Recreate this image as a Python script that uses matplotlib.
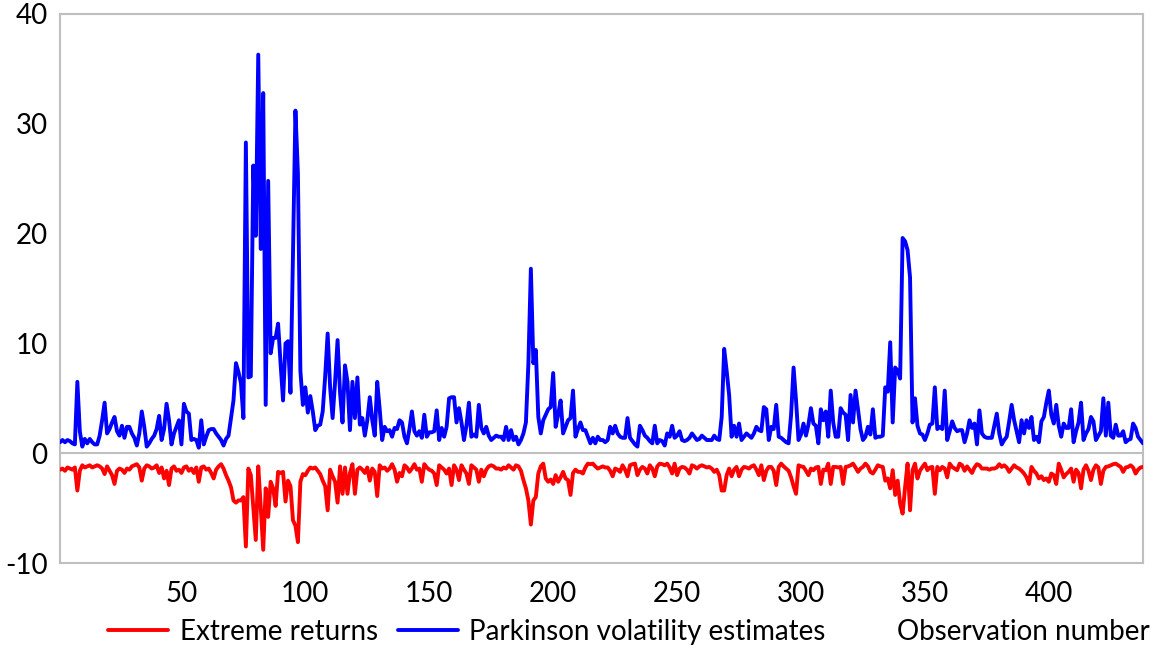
import matplotlib
matplotlib.use("Agg")
import matplotlib.pyplot as plt
import numpy as np

parkinson = [
    1.0, 1.2, 1.0, 1.2, 1.1, 0.9, 0.8, 6.5, 2.0, 0.6,
    1.3, 0.9, 1.3, 1.0, 0.8, 0.8, 1.6, 3.0, 4.6, 1.8,
    2.2, 2.8, 3.3, 2.0, 1.6, 2.5, 1.4, 2.4, 2.4, 1.8,
    1.4, 0.7, 1.8, 3.8, 2.4, 0.6, 0.9, 1.3, 1.6, 2.2,
    3.4, 1.2, 2.2, 4.5, 3.0, 0.8, 1.8, 2.4, 3.0, 0.8,
    4.5, 3.8, 3.6, 1.2, 1.3, 1.2, 0.5, 3.0, 0.8, 1.5,
    2.1, 2.2, 2.2, 1.8, 1.5, 1.2, 0.7, 1.3, 1.6, 3.2,
    4.8, 8.2, 7.4, 6.4, 3.2, 28.3, 6.9, 7.0, 26.2, 19.8,
    36.3, 18.6, 32.8, 4.4, 24.8, 9.1, 10.5, 10.5, 11.8, 8.2,
    4.8, 10.0, 10.2, 5.5, 18.0, 31.2, 25.5, 7.5, 4.4, 6.0,
    3.7, 5.2, 3.8, 2.1, 2.5, 2.6, 3.8, 7.0, 10.9, 6.0,
    3.2, 6.5, 10.3, 5.5, 2.8, 8.0, 6.5, 2.1, 6.5, 3.2,
    6.9, 2.6, 3.2, 1.6, 3.0, 5.1, 3.0, 1.6, 6.5, 4.0,
    1.2, 2.4, 2.0, 2.1, 1.5, 2.3, 2.2, 3.0, 2.8, 1.5,
    0.9, 2.2, 3.8, 2.0, 1.6, 2.0, 1.4, 3.5, 1.5, 1.9,
    1.9, 2.0, 3.9, 1.2, 2.3, 1.5, 2.4, 5.0, 5.1, 5.1,
    2.8, 4.1, 2.8, 1.2, 2.5, 4.6, 1.5, 1.7, 1.5, 4.4,
    2.3, 1.8, 2.4, 1.6, 1.2, 1.4, 1.6, 1.5, 1.5, 1.2,
    2.4, 1.2, 2.1, 1.2, 1.5, 0.8, 1.2, 1.8, 2.8, 8.2,
    16.8, 8.2, 9.4, 3.3, 1.8, 3.0, 3.5, 4.0, 4.2, 7.3,
    2.4, 3.5, 4.8, 1.8, 2.4, 3.0, 3.2, 5.7, 1.5, 2.2,
    2.8, 2.1, 2.1, 1.5, 0.9, 1.4, 0.9, 1.5, 1.2, 1.2,
    1.0, 1.2, 2.4, 1.8, 2.5, 1.8, 1.5, 1.4, 1.4, 3.2,
    1.4, 1.1, 0.8, 0.6, 2.5, 2.1, 1.6, 1.4, 1.1, 0.9,
    2.5, 0.9, 1.2, 1.1, 0.7, 1.8, 1.5, 2.5, 1.4, 1.6,
    2.0, 1.2, 1.1, 1.2, 1.4, 1.8, 1.5, 1.2, 1.3, 1.6,
    1.4, 1.2, 1.2, 1.2, 1.6, 1.3, 1.2, 3.3, 9.5, 7.5,
    5.3, 1.5, 2.5, 1.5, 2.7, 1.2, 1.5, 1.8, 1.6, 1.4,
    1.8, 2.4, 2.1, 2.0, 4.2, 4.0, 1.2, 2.4, 2.2, 4.4,
    1.5, 1.4, 1.2, 1.0, 0.9, 3.5, 7.8, 4.8, 1.2, 1.7,
    2.7, 1.6, 2.6, 4.1, 2.7, 2.5, 0.9, 4.0, 3.0, 3.8,
    1.5, 5.7, 2.8, 1.5, 1.5, 4.1, 3.7, 3.5, 1.2, 5.3,
    2.8, 5.7, 4.0, 2.2, 1.2, 1.5, 2.4, 1.7, 4.0, 1.4,
    1.5, 1.5, 1.6, 6.0, 5.6, 10.1, 2.8, 7.8, 7.5, 6.8,
    19.6, 19.3, 18.5, 16.0, 2.8, 5.0, 2.5, 1.8, 1.7, 1.2,
    1.8, 2.6, 2.7, 6.0, 2.2, 2.4, 2.2, 5.7, 1.2, 2.0,
    2.9, 2.3, 2.0, 2.1, 2.1, 1.0, 1.8, 3.0, 2.3, 2.7,
    0.8, 3.9, 1.8, 1.5, 1.4, 1.4, 1.4, 2.5, 3.6, 1.8,
    0.8, 1.2, 1.5, 2.9, 4.4, 3.0, 2.0, 1.0, 3.0, 1.8,
    3.0, 2.3, 3.3, 1.2, 1.5, 1.0, 2.9, 3.3, 4.6, 5.7,
    3.5, 2.7, 4.4, 2.5, 1.5, 2.7, 2.3, 2.3, 4.0, 1.0,
    2.0, 2.8, 4.6, 1.2, 1.8, 2.2, 3.3, 2.9, 1.2, 1.6,
    2.0, 5.0, 1.6, 4.6, 1.6, 1.4, 2.6, 1.6, 1.6, 2.0,
    1.0, 1.2, 1.3, 2.7, 2.3, 1.5, 1.2, 0.9,
]

# Extreme returns, same observations
extreme = [
    -1.5, -1.4, -1.6, -1.3, -1.4, -1.5, -1.3, -3.4, -1.6, -1.1,
    -1.3, -1.2, -1.1, -1.3, -1.2, -1.1, -1.2, -1.4, -1.9, -1.2,
    -1.6, -2.0, -2.8, -1.6, -1.4, -1.5, -1.8, -1.4, -1.5, -1.2,
    -1.1, -1.0, -1.3, -2.5, -1.4, -1.1, -1.2, -1.4, -1.3, -1.1,
    -1.8, -1.3, -2.3, -1.6, -2.9, -1.4, -1.2, -1.6, -1.5, -1.8,
    -1.3, -1.2, -1.6, -1.4, -1.8, -1.3, -2.6, -1.3, -1.2, -1.5,
    -1.4, -1.8, -2.3, -1.5, -1.2, -1.0, -1.4, -2.0, -2.5, -3.1,
    -4.3, -4.5, -4.3, -4.3, -4.0, -8.5, -1.4, -2.0, -4.9, -7.9,
    -1.2, -4.9, -8.8, -3.2, -5.8, -2.6, -3.2, -4.8, -1.7, -1.8,
    -1.7, -4.4, -2.5, -3.0, -6.1, -6.6, -8.1, -2.6, -1.9, -2.0,
    -1.6, -1.3, -1.4, -1.3, -1.6, -1.9, -2.5, -3.0, -5.2, -1.5,
    -2.1, -2.6, -4.5, -1.2, -3.7, -1.3, -3.7, -1.8, -1.0, -3.7,
    -1.5, -1.3, -1.5, -1.8, -1.3, -2.5, -1.4, -1.7, -3.9, -1.1,
    -1.4, -1.3, -1.6, -1.4, -1.0, -1.5, -2.6, -1.8, -2.1, -1.1,
    -1.3, -1.7, -1.4, -1.0, -1.5, -1.4, -2.6, -1.0, -1.3, -1.5,
    -1.6, -1.85, -2.9, -1.1, -1.3, -1.5, -1.85, -1.4, -2.9, -1.1,
    -1.5, -2.45, -1.1, -1.5, -1.85, -2.8, -1.1, -1.3, -1.5, -2.6,
    -1.5, -2.1, -1.5, -1.2, -1.1, -1.2, -1.4, -1.4, -1.5, -1.3,
    -1.4, -1.1, -1.3, -1.5, -1.1, -1.2, -1.6, -2.45, -3.2, -4.3,
    -6.5, -4.3, -4.0, -1.85, -1.2, -0.95, -2.3, -2.6, -2.4, -2.8,
    -2.0, -2.6, -2.2, -1.7, -2.3, -2.45, -3.8, -1.8, -1.5, -1.7,
    -1.7, -1.85, -1.3, -0.95, -1.0, -0.95, -1.2, -1.4, -1.3, -1.2,
    -1.3, -1.3, -1.6, -2.1, -1.4, -1.5, -1.7, -1.1, -1.5, -2.1,
    -1.1, -1.0, -0.95, -2.0, -1.5, -1.25, -1.4, -1.85, -1.1, -1.4,
    -2.1, -1.2, -0.95, -1.0, -1.1, -0.95, -1.3, -1.85, -0.95, -2.0,
    -1.4, -1.25, -1.3, -1.5, -1.85, -1.1, -1.2, -1.4, -1.2, -1.1,
    -1.2, -1.3, -1.25, -1.4, -1.7, -1.5, -2.0, -3.4, -3.4, -2.0,
    -1.4, -2.1, -1.5, -1.25, -2.1, -1.5, -1.25, -1.3, -1.4, -1.2,
    -1.1, -1.5, -2.0, -1.1, -2.45, -1.6, -1.25, -1.25, -1.6, -2.9,
    -1.25, -0.95, -1.2, -1.4, -1.6, -2.2, -3.0, -3.7, -1.1, -1.2,
    -1.25, -1.6, -2.0, -1.4, -1.55, -1.3, -1.25, -2.8, -1.5, -1.55,
    -0.95, -2.8, -1.25, -1.25, -1.3, -1.25, -2.8, -1.25, -1.2, -1.1,
    -0.95, -1.3, -1.7, -1.4, -1.25, -0.95, -1.2, -1.7, -1.85, -1.5,
    -1.1, -1.2, -1.25, -2.5, -2.3, -3.2, -1.55, -3.8, -2.5, -4.6,
    -5.5, -3.1, -0.95, -5.2, -1.55, -0.95, -2.3, -1.6, -1.25, -0.95,
    -1.55, -1.3, -1.25, -3.7, -1.25, -1.55, -1.25, -1.4, -2.2, -0.95,
    -1.25, -1.4, -1.55, -0.95, -1.1, -1.6, -1.2, -1.5, -1.8, -1.3,
    -1.0, -1.1, -1.4, -1.4, -1.4, -1.5, -1.4, -1.4, -1.3, -1.0,
    -1.25, -1.1, -1.3, -1.7, -1.4, -1.1, -1.3, -1.4, -1.6, -1.85,
    -2.2, -2.8, -1.25, -1.6, -1.85, -2.3, -2.1, -2.45, -2.3, -2.6,
    -1.85, -2.0, -2.8, -0.95, -1.5, -2.2, -1.9, -1.7, -1.4, -2.6,
    -1.5, -1.8, -3.2, -1.5, -1.1, -1.6, -2.45, -1.5, -1.1, -1.3,
    -2.8, -1.6, -1.25, -1.2, -1.1, -1.0, -0.95, -1.1, -1.25, -1.7,
    -1.3, -1.25, -1.1, -1.3, -1.85, -1.5, -1.3, -1.25,
]

x_ticks = [50, 100, 150, 200, 250, 300, 350, 400]
y_ticks = [-10, 0, 10, 20, 30, 40]

plt.rcParams["font.family"] = ["Lato", "DejaVu Sans"]
plt.rcParams["font.size"] = 20
plt.rcParams["axes.unicode_minus"] = False  # plain hyphen on "-10"

W, H = 1158, 653
fig = plt.figure(figsize=(W / 100, H / 100), dpi=100)
ax = fig.add_axes([60 / W, 1 - 563 / H, (1143 - 60) / W, (563 - 14) / H])

obs_p = np.arange(1, len(parkinson) + 1)
obs_e = np.arange(1, len(extreme) + 1)

grey = "#BFBFBF"
ax.axhline(0, color=grey, lw=1.5, zorder=1)
(line_e,) = ax.plot(obs_e, extreme, color="#FF0000", lw=2.8, zorder=3,
                    solid_joinstyle="round", solid_capstyle="round")
(line_p,) = ax.plot(obs_p, parkinson, color="#0000FF", lw=2.8, zorder=3,
                    solid_joinstyle="round", solid_capstyle="round")

ax.set_xlim(1, max(len(parkinson), len(extreme)))
ax.set_ylim(-10, 40)
ax.set_xticks(x_ticks)
ax.set_yticks(y_ticks)
ax.tick_params(axis="both", length=0, labelsize=20, colors="black")
ax.tick_params(axis="x", pad=13)
ax.tick_params(axis="y", pad=9)

for side in ["left", "right", "top", "bottom"]:
    ax.spines[side].set_color(grey)
    ax.spines[side].set_linewidth(1.5)

# x-axis title sits on the legend row, to the right
ax.set_xlabel("Observation number", fontsize=20, ha="left", va="center")
ax.xaxis.set_label_coords((897 - 60) / (1143 - 60), (563 - 632) / (563 - 14))

fig.legend([line_e, line_p], ["Extreme returns", "Parkinson volatility estimates"],
           loc="center left", bbox_to_anchor=(108 / W, 1 - 632 / H), ncol=2,
           frameon=False, fontsize=20, handlelength=2.15, handletextpad=0.43,
           columnspacing=0.72, borderpad=0, borderaxespad=0)

fig.savefig("out.png", dpi=100)
